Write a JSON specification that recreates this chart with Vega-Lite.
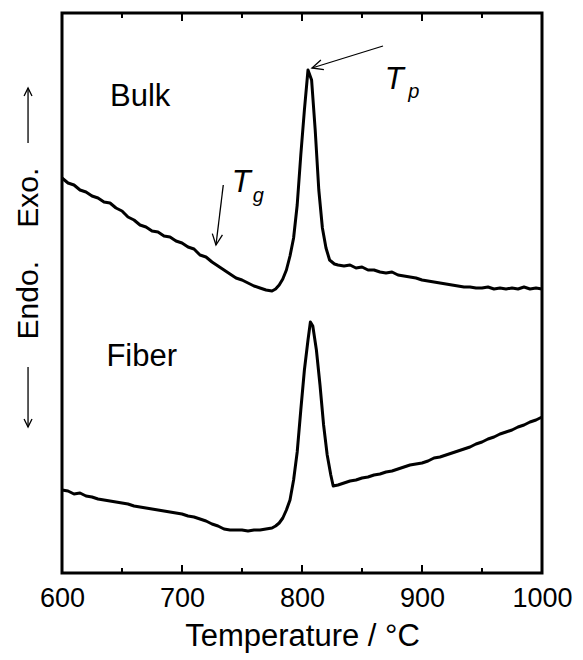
{
  "$schema": "https://vega.github.io/schema/vega-lite/v6.json",
  "width": 480,
  "height": 560,
  "autosize": {"type": "none"},
  "padding": {"left": 62, "top": 13, "right": 41, "bottom": 87},
  "background": "white",
  "config": {
    "view": {"stroke": "black", "strokeWidth": 3},
    "font": "Liberation Sans",
    "axis": {"grid": false, "domain": false}
  },
  "datasets": {
    "curves": [
      {"sample": "Bulk", "t": 600, "s": 395}, {"sample": "Bulk", "t": 605, "s": 390}, {"sample": "Bulk", "t": 610, "s": 388}, {"sample": "Bulk", "t": 615, "s": 383}, {"sample": "Bulk", "t": 620, "s": 381}, {"sample": "Bulk", "t": 625, "s": 377}, {"sample": "Bulk", "t": 630, "s": 375}, {"sample": "Bulk", "t": 635, "s": 371}, {"sample": "Bulk", "t": 640, "s": 370}, {"sample": "Bulk", "t": 645, "s": 365}, {"sample": "Bulk", "t": 650, "s": 362}, {"sample": "Bulk", "t": 655, "s": 356}, {"sample": "Bulk", "t": 660, "s": 353}, {"sample": "Bulk", "t": 665, "s": 348}, {"sample": "Bulk", "t": 670, "s": 346}, {"sample": "Bulk", "t": 675, "s": 342}, {"sample": "Bulk", "t": 680, "s": 341}, {"sample": "Bulk", "t": 685, "s": 337}, {"sample": "Bulk", "t": 690, "s": 336}, {"sample": "Bulk", "t": 695, "s": 332}, {"sample": "Bulk", "t": 700, "s": 330}, {"sample": "Bulk", "t": 705, "s": 326}, {"sample": "Bulk", "t": 710, "s": 324}, {"sample": "Bulk", "t": 715, "s": 318}, {"sample": "Bulk", "t": 720, "s": 316}, {"sample": "Bulk", "t": 725, "s": 311}, {"sample": "Bulk", "t": 730, "s": 307}, {"sample": "Bulk", "t": 735, "s": 303}, {"sample": "Bulk", "t": 740, "s": 299}, {"sample": "Bulk", "t": 745, "s": 295}, {"sample": "Bulk", "t": 750, "s": 293}, {"sample": "Bulk", "t": 755, "s": 290}, {"sample": "Bulk", "t": 760, "s": 287}, {"sample": "Bulk", "t": 765, "s": 285}, {"sample": "Bulk", "t": 770, "s": 283}, {"sample": "Bulk", "t": 775, "s": 282}, {"sample": "Bulk", "t": 778, "s": 284}, {"sample": "Bulk", "t": 781, "s": 288}, {"sample": "Bulk", "t": 784, "s": 294}, {"sample": "Bulk", "t": 787, "s": 303}, {"sample": "Bulk", "t": 790, "s": 317}, {"sample": "Bulk", "t": 793, "s": 335}, {"sample": "Bulk", "t": 796, "s": 368}, {"sample": "Bulk", "t": 799, "s": 418}, {"sample": "Bulk", "t": 802, "s": 463}, {"sample": "Bulk", "t": 805, "s": 503}, {"sample": "Bulk", "t": 808, "s": 493}, {"sample": "Bulk", "t": 811, "s": 443}, {"sample": "Bulk", "t": 814, "s": 383}, {"sample": "Bulk", "t": 817, "s": 345}, {"sample": "Bulk", "t": 820, "s": 325}, {"sample": "Bulk", "t": 823, "s": 313}, {"sample": "Bulk", "t": 827, "s": 309}, {"sample": "Bulk", "t": 830, "s": 308}, {"sample": "Bulk", "t": 835, "s": 307}, {"sample": "Bulk", "t": 840, "s": 308}, {"sample": "Bulk", "t": 845, "s": 305}, {"sample": "Bulk", "t": 850, "s": 306}, {"sample": "Bulk", "t": 855, "s": 303}, {"sample": "Bulk", "t": 860, "s": 303}, {"sample": "Bulk", "t": 865, "s": 301}, {"sample": "Bulk", "t": 870, "s": 300}, {"sample": "Bulk", "t": 875, "s": 301}, {"sample": "Bulk", "t": 880, "s": 298}, {"sample": "Bulk", "t": 885, "s": 297}, {"sample": "Bulk", "t": 890, "s": 296}, {"sample": "Bulk", "t": 895, "s": 295}, {"sample": "Bulk", "t": 900, "s": 293}, {"sample": "Bulk", "t": 905, "s": 292}, {"sample": "Bulk", "t": 910, "s": 291}, {"sample": "Bulk", "t": 915, "s": 290}, {"sample": "Bulk", "t": 920, "s": 289}, {"sample": "Bulk", "t": 925, "s": 288}, {"sample": "Bulk", "t": 930, "s": 287}, {"sample": "Bulk", "t": 935, "s": 286}, {"sample": "Bulk", "t": 940, "s": 286}, {"sample": "Bulk", "t": 945, "s": 285}, {"sample": "Bulk", "t": 950, "s": 285}, {"sample": "Bulk", "t": 955, "s": 286}, {"sample": "Bulk", "t": 960, "s": 284}, {"sample": "Bulk", "t": 965, "s": 285}, {"sample": "Bulk", "t": 970, "s": 284}, {"sample": "Bulk", "t": 975, "s": 285}, {"sample": "Bulk", "t": 980, "s": 284}, {"sample": "Bulk", "t": 985, "s": 286}, {"sample": "Bulk", "t": 990, "s": 284}, {"sample": "Bulk", "t": 995, "s": 285}, {"sample": "Bulk", "t": 1000, "s": 284},
      {"sample": "Fiber", "t": 600, "s": 83}, {"sample": "Fiber", "t": 605, "s": 82}, {"sample": "Fiber", "t": 610, "s": 79}, {"sample": "Fiber", "t": 615, "s": 80}, {"sample": "Fiber", "t": 620, "s": 77}, {"sample": "Fiber", "t": 625, "s": 76}, {"sample": "Fiber", "t": 630, "s": 74}, {"sample": "Fiber", "t": 635, "s": 73}, {"sample": "Fiber", "t": 640, "s": 72}, {"sample": "Fiber", "t": 645, "s": 71}, {"sample": "Fiber", "t": 650, "s": 70}, {"sample": "Fiber", "t": 655, "s": 69}, {"sample": "Fiber", "t": 660, "s": 67}, {"sample": "Fiber", "t": 665, "s": 66}, {"sample": "Fiber", "t": 670, "s": 65}, {"sample": "Fiber", "t": 675, "s": 64}, {"sample": "Fiber", "t": 680, "s": 63}, {"sample": "Fiber", "t": 685, "s": 62}, {"sample": "Fiber", "t": 690, "s": 61}, {"sample": "Fiber", "t": 695, "s": 60}, {"sample": "Fiber", "t": 700, "s": 59}, {"sample": "Fiber", "t": 705, "s": 57}, {"sample": "Fiber", "t": 710, "s": 56}, {"sample": "Fiber", "t": 715, "s": 54}, {"sample": "Fiber", "t": 720, "s": 52}, {"sample": "Fiber", "t": 725, "s": 49}, {"sample": "Fiber", "t": 730, "s": 47}, {"sample": "Fiber", "t": 735, "s": 44}, {"sample": "Fiber", "t": 740, "s": 43}, {"sample": "Fiber", "t": 745, "s": 43}, {"sample": "Fiber", "t": 750, "s": 43}, {"sample": "Fiber", "t": 755, "s": 42}, {"sample": "Fiber", "t": 760, "s": 43}, {"sample": "Fiber", "t": 765, "s": 43}, {"sample": "Fiber", "t": 770, "s": 44}, {"sample": "Fiber", "t": 775, "s": 45}, {"sample": "Fiber", "t": 778, "s": 47}, {"sample": "Fiber", "t": 781, "s": 50}, {"sample": "Fiber", "t": 784, "s": 55}, {"sample": "Fiber", "t": 787, "s": 63}, {"sample": "Fiber", "t": 790, "s": 73}, {"sample": "Fiber", "t": 793, "s": 93}, {"sample": "Fiber", "t": 796, "s": 121}, {"sample": "Fiber", "t": 799, "s": 163}, {"sample": "Fiber", "t": 802, "s": 203}, {"sample": "Fiber", "t": 805, "s": 233}, {"sample": "Fiber", "t": 807, "s": 251}, {"sample": "Fiber", "t": 809, "s": 247}, {"sample": "Fiber", "t": 812, "s": 223}, {"sample": "Fiber", "t": 815, "s": 188}, {"sample": "Fiber", "t": 818, "s": 148}, {"sample": "Fiber", "t": 821, "s": 118}, {"sample": "Fiber", "t": 824, "s": 98}, {"sample": "Fiber", "t": 826, "s": 87}, {"sample": "Fiber", "t": 830, "s": 88}, {"sample": "Fiber", "t": 835, "s": 90}, {"sample": "Fiber", "t": 840, "s": 92}, {"sample": "Fiber", "t": 845, "s": 93}, {"sample": "Fiber", "t": 850, "s": 95}, {"sample": "Fiber", "t": 855, "s": 96}, {"sample": "Fiber", "t": 860, "s": 98}, {"sample": "Fiber", "t": 865, "s": 99}, {"sample": "Fiber", "t": 870, "s": 101}, {"sample": "Fiber", "t": 875, "s": 102}, {"sample": "Fiber", "t": 880, "s": 104}, {"sample": "Fiber", "t": 885, "s": 106}, {"sample": "Fiber", "t": 890, "s": 108}, {"sample": "Fiber", "t": 895, "s": 109}, {"sample": "Fiber", "t": 900, "s": 110}, {"sample": "Fiber", "t": 905, "s": 112}, {"sample": "Fiber", "t": 910, "s": 115}, {"sample": "Fiber", "t": 915, "s": 116}, {"sample": "Fiber", "t": 920, "s": 118}, {"sample": "Fiber", "t": 925, "s": 120}, {"sample": "Fiber", "t": 930, "s": 122}, {"sample": "Fiber", "t": 935, "s": 124}, {"sample": "Fiber", "t": 940, "s": 126}, {"sample": "Fiber", "t": 945, "s": 129}, {"sample": "Fiber", "t": 950, "s": 131}, {"sample": "Fiber", "t": 955, "s": 134}, {"sample": "Fiber", "t": 960, "s": 136}, {"sample": "Fiber", "t": 965, "s": 139}, {"sample": "Fiber", "t": 970, "s": 141}, {"sample": "Fiber", "t": 975, "s": 143}, {"sample": "Fiber", "t": 980, "s": 146}, {"sample": "Fiber", "t": 985, "s": 148}, {"sample": "Fiber", "t": 990, "s": 151}, {"sample": "Fiber", "t": 995, "s": 153}, {"sample": "Fiber", "t": 1000, "s": 156}
    ],
    "arrows": [
      {"id": "p_shaft", "o": 1, "t": 867.5, "s": 527},
      {"id": "p_shaft", "o": 2, "t": 808.3, "s": 505},
      {"id": "p_head", "o": 1, "t": 818.25, "s": 503.4},
      {"id": "p_head", "o": 2, "t": 808.3, "s": 505},
      {"id": "p_head", "o": 3, "t": 815.75, "s": 513.1},
      {"id": "g_shaft", "o": 1, "t": 734.4, "s": 388},
      {"id": "g_shaft", "o": 2, "t": 728.3, "s": 328},
      {"id": "g_head", "o": 1, "t": 733.7, "s": 338.2},
      {"id": "g_head", "o": 2, "t": 728.3, "s": 328},
      {"id": "g_head", "o": 3, "t": 725.25, "s": 339.4},
      {"id": "exo_shaft", "o": 1, "t": 571.7, "s": 430},
      {"id": "exo_shaft", "o": 2, "t": 571.7, "s": 485},
      {"id": "exo_head", "o": 1, "t": 568.4, "s": 477},
      {"id": "exo_head", "o": 2, "t": 571.7, "s": 485},
      {"id": "exo_head", "o": 3, "t": 575.0, "s": 477},
      {"id": "endo_shaft", "o": 1, "t": 571.7, "s": 206},
      {"id": "endo_shaft", "o": 2, "t": 571.7, "s": 146},
      {"id": "endo_head", "o": 1, "t": 568.4, "s": 154},
      {"id": "endo_head", "o": 2, "t": 571.7, "s": 146},
      {"id": "endo_head", "o": 3, "t": 575.0, "s": 154}
    ],
    "ticks": [
      {"t": 700, "a": 0, "b": 8}, {"t": 800, "a": 0, "b": 8}, {"t": 900, "a": 0, "b": 8},
      {"t": 650, "a": 0, "b": 5}, {"t": 750, "a": 0, "b": 5}, {"t": 850, "a": 0, "b": 5}, {"t": 950, "a": 0, "b": 5},
      {"t": 700, "a": 560, "b": 552}, {"t": 800, "a": 560, "b": 552}, {"t": 900, "a": 560, "b": 552},
      {"t": 650, "a": 560, "b": 555}, {"t": 750, "a": 560, "b": 555}, {"t": 850, "a": 560, "b": 555}, {"t": 950, "a": 560, "b": 555}
    ],
    "names": [
      {"t": 640, "s": 476, "text": "Bulk"},
      {"t": 637, "s": 216, "text": "Fiber"}
    ],
    "syms": [
      {"t": 869, "s": 493, "text": "T"},
      {"t": 741.5, "s": 390, "text": "T"}
    ],
    "subs": [
      {"t": 888.5, "s": 481, "text": "p"},
      {"t": 759, "s": 377, "text": "g"}
    ]
  },
  "layer": [
    {
      "data": {"name": "curves"},
      "mark": {"type": "line", "color": "black", "strokeWidth": 3, "strokeJoin": "round"},
      "encoding": {
        "x": {"field": "t", "type": "quantitative", "scale": {"domain": [600, 1000], "nice": false},
          "axis": {"orient": "bottom", "values": [600, 700, 800, 900, 1000], "format": "d", "ticks": false, "labelPadding": 12, "labelFontSize": 27, "labelColor": "black", "labelFlush": false, "title": "Temperature / °C", "titleFontSize": 31, "titleFontWeight": "normal", "titleColor": "black", "titlePadding": 10}},
        "y": {"field": "s", "type": "quantitative", "scale": {"domain": [0, 560], "nice": false},
          "axis": {"orient": "left", "labels": false, "ticks": false, "title": "Endo.\u00a0\u00a0\u00a0\u00a0Exo.", "titleFontSize": 30, "titleFontWeight": "normal", "titleColor": "black", "titleX": -34, "titleY": 240, "titleAngle": -90, "titleAlign": "center", "titleBaseline": "middle"}},
        "detail": {"field": "sample"}
      }
    },
    {
      "data": {"name": "ticks"},
      "mark": {"type": "rule", "color": "black", "strokeWidth": 2},
      "encoding": {
        "x": {"field": "t", "type": "quantitative", "axis": null},
        "y": {"field": "a", "type": "quantitative", "axis": null},
        "y2": {"field": "b"}
      }
    },
    {
      "data": {"name": "arrows"},
      "mark": {"type": "line", "color": "black", "strokeWidth": 1.3, "clip": false},
      "encoding": {
        "x": {"field": "t", "type": "quantitative", "axis": null},
        "y": {"field": "s", "type": "quantitative", "axis": null},
        "detail": {"field": "id"},
        "order": {"field": "o", "type": "quantitative"}
      }
    },
    {
      "data": {"name": "names"},
      "mark": {"type": "text", "align": "left", "baseline": "middle", "fontSize": 31, "color": "black"},
      "encoding": {
        "x": {"field": "t", "type": "quantitative", "axis": null},
        "y": {"field": "s", "type": "quantitative", "axis": null},
        "text": {"field": "text"}
      }
    },
    {
      "data": {"name": "syms"},
      "mark": {"type": "text", "align": "left", "baseline": "middle", "fontSize": 31, "fontStyle": "italic", "color": "black"},
      "encoding": {
        "x": {"field": "t", "type": "quantitative", "axis": null},
        "y": {"field": "s", "type": "quantitative", "axis": null},
        "text": {"field": "text"}
      }
    },
    {
      "data": {"name": "subs"},
      "mark": {"type": "text", "align": "left", "baseline": "middle", "fontSize": 20, "fontStyle": "italic", "color": "black"},
      "encoding": {
        "x": {"field": "t", "type": "quantitative", "axis": null},
        "y": {"field": "s", "type": "quantitative", "axis": null},
        "text": {"field": "text"}
      }
    }
  ],
  "resolve": {"axis": {"x": "independent", "y": "independent"}}
}
